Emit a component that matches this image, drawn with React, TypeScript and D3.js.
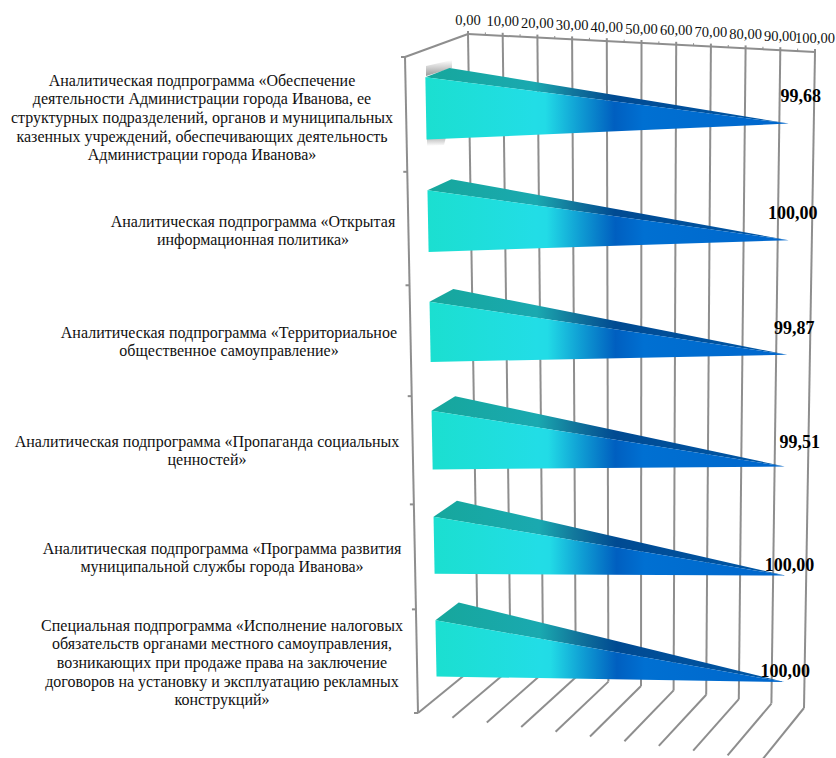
import React from "react";
import * as d3 from "d3";

const categoryLines: string[][] = [
  ["Аналитическая подпрограмма «Обеспечение", "деятельности Администрации города Иванова, ее", "структурных подразделений, органов и муниципальных", "казенных учреждений, обеспечивающих деятельность", "Администрации города Иванова»"],
  ["Аналитическая подпрограмма «Открытая", "информационная политика»"],
  ["Аналитическая подпрограмма «Территориальное", "общественное самоуправление»"],
  ["Аналитическая подпрограмма «Пропаганда социальных", "ценностей»"],
  ["Аналитическая подпрограмма «Программа развития", "муниципальной службы города Иванова»"],
  ["Специальная подпрограмма «Исполнение налоговых", "обязательств органами местного самоуправления,", "возникающих при продаже права на заключение", "договоров на установку и эксплуатацию рекламных", "конструкций»"],
];
const values = [99.68, 100, 99.87, 99.51, 100, 100];
const valueLabels = ["99,68", "100,00", "99,87", "99,51", "100,00", "100,00"];
const ticks = d3.range(0, 101, 10);
const minorTicks = d3.range(5, 100, 10);

// layout of the labels
const labelCx = [202, 253, 229, 207, 222, 222];
const labelCy = [118, 231, 342, 451, 558, 663];
const valueDx = [12, 4, 7, 15, 4, 1];
const valueDy = [-22, -21, -21, -18, -5, -5];

type P = [number, number];
// corners of the 3D box as drawn: [row top/bottom][depth front/back][value 0/100]
const box: Record<string, P> = {
  t00: [405, 57], t01: [764, 75], t10: [468, 34], t11: [815, 52],
  b00: [418, 713], b01: [762, 760], b10: [478, 664], b11: [804, 708],
};
const u = d3.scaleLinear().domain([0, 100]).range([0, 1]);
const mix = (a: P, b: P, k: number): P => [a[0] + (b[0] - a[0]) * k, a[1] + (b[1] - a[1]) * k];
const project = (v: number, t: number, w: number): P => {
  const k = u(v);
  const top = mix(mix(box.t00, box.t01, k), mix(box.t10, box.t11, k), w);
  const bot = mix(mix(box.b00, box.b01, k), mix(box.b10, box.b11, k), w);
  return mix(top, bot, t);
};
// rows shrink toward the bottom because of the perspective
const row = d3.scaleLinear().domain([0, 1, 2, 3, 4, 5, 6]).range([0, 0.175, 0.348, 0.517, 0.682, 0.842, 1]);
const BAR_FILL = 0.275;
const CENTER_SHIFT = 0.003;
const W_FRONT = 0.315, W_BACK = 0.7, W_TIP = 0.52;
const path = d3.line<P>();
const poly = (pts: P[]) => path(pts)! + "Z";
const GRID = "#8e8e8e";

const frontStops: [number, string][] = [[0, "#1bdfd0"], [0.3, "#22dde6"], [0.33, "#22dbe6"], [0.42, "#109fd4"], [0.52, "#005fc0"], [0.6, "#0070d2"], [1, "#0066cc"]];
const topStops: [number, string][] = [[0, "#16a79c"], [0.3, "#1aa9b0"], [0.4, "#12789c"], [0.52, "#004a92"], [1, "#0058a8"]];

export default function App() {
  const bars = values.map((v, i) => {
    const c = row(i + 0.5) + CENTER_SHIFT;
    const half = (row(i + 1) - row(i)) * BAR_FILL;
    const ft = project(0, c - half, W_FRONT);
    const fb = project(0, c + half, W_FRONT);
    const bt = project(0, c - half, W_BACK);
    const tip = project(v, c, W_TIP);
    return { ft, fb, bt, tip, v, i };
  });
  return (
    <svg width={836} height={758} style={{ position: "absolute", left: 0, top: 0 }} fontFamily="'Liberation Serif', serif">
      <defs>
        {bars.map((b) => (
          <React.Fragment key={b.i}>
            <linearGradient id={`f${b.i}`} gradientUnits="userSpaceOnUse" x1={b.ft[0]} x2={b.tip[0]} y1={0} y2={0}>
              {frontStops.map(([o, c]) => <stop key={o} offset={o} stopColor={c} />)}
            </linearGradient>
            <linearGradient id={`t${b.i}`} gradientUnits="userSpaceOnUse" x1={b.ft[0]} x2={b.tip[0]} y1={0} y2={0}>
              {topStops.map(([o, c]) => <stop key={o} offset={o} stopColor={c} />)}
            </linearGradient>
          </React.Fragment>
        ))}
        <linearGradient id="shUp" x1="0" x2="0" y1="1" y2="0">
          <stop offset={0} stopColor="#9a9a9a" />
          <stop offset={1} stopColor="#ffffff" />
        </linearGradient>
        <linearGradient id="shDown" x1="0" x2="0" y1="0" y2="1">
          <stop offset={0} stopColor="#b4b4b4" />
          <stop offset={1} stopColor="#ffffff" />
        </linearGradient>
      </defs>

      {/* walls */}
      <g stroke={GRID} strokeWidth={2} fill="none">
        {ticks.map((t) => (
          <path key={t} d={path([project(t, 0, 1), project(t, 1, 1)])!} />
        ))}
        {ticks.map((t) => (
          <path key={t} d={path([project(t, 1, 0), project(t, 1, 1)])!} />
        ))}
        <path d={path([project(0, 0, 1), project(100, 0, 1)])!} />
        <path d={path([project(0, 0, 0), project(0, 0, 1)])!} />
        <path d={path([project(0, 0, 0), project(0, 1, 0)])!} />
        {d3.range(0, 7).map((i) => {
          const p = project(0, row(i), 0);
          return <path key={i} d={path([[p[0] - 4, p[1]], p])!} />;
        })}
        {minorTicks.map((t) => {
          const p = project(t, 0, 1);
          return <path key={t} d={path([p, [p[0], p[1] - 2.5]])!} strokeWidth={1} />;
        })}
        {ticks.map((t) => {
          const p = project(t, 0, 1);
          return <path key={t} d={path([p, [p[0], p[1] - 3]])!} />;
        })}
      </g>

      {/* shadow of the first bar */}
      <path d={poly([[426, 76], [426, 66], [452, 60], [452, 68]])} fill="url(#shUp)" />
      <path d={poly([[427, 138], [446, 137], [444, 145], [427, 146]])} fill="url(#shDown)" />

      {/* bars */}
      {bars.map((b) => (
        <g key={b.i}>
          <path d={poly([b.ft, b.bt, b.tip])} fill={`url(#t${b.i})`} />
          <path d={poly([b.ft, b.fb, b.tip])} fill={`url(#f${b.i})`} />
        </g>
      ))}

      {/* value axis labels */}
      {ticks.map((t) => {
        const p = project(t, 0, 1);
        return (
          <text key={t} x={p[0]} y={p[1] - 9.5} textAnchor="middle" fontSize={14.5} fill="#111">
            {d3.format(".2f")(t).replace(".", ",")}
          </text>
        );
      })}

      {/* category labels */}
      {categoryLines.map((lines, i) => (
        <text key={i} textAnchor="middle" fontSize={16} fill="#111">
          {lines.map((l, j) => (
            <tspan key={j} x={labelCx[i]} y={labelCy[i] + (j - (lines.length - 1) / 2) * 18.6 + 5}>{l}</tspan>
          ))}
        </text>
      ))}

      {/* value labels */}
      {bars.map((b) => (
        <text key={b.i} x={b.tip[0] + valueDx[b.i]} y={b.tip[1] + valueDy[b.i]} textAnchor="middle" fontSize={18} fontWeight="bold" fill="#000">
          {valueLabels[b.i]}
        </text>
      ))}
    </svg>
  );
}
